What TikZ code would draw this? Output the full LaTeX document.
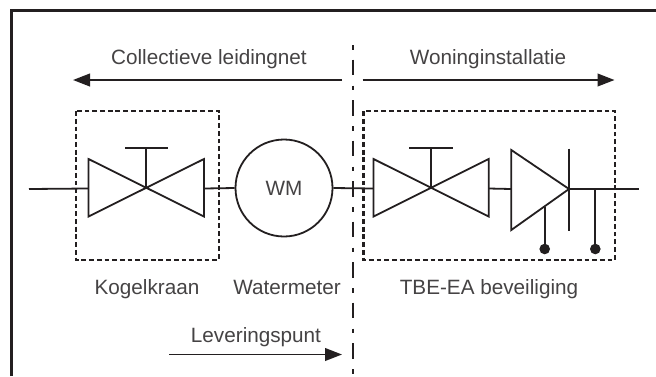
\documentclass[tikz,border=0pt]{standalone}
\usepackage{fontspec}
\setmainfont{Liberation Sans}
\usetikzlibrary{arrows.meta}
\definecolor{ink}{HTML}{231F20}
\definecolor{txt}{HTML}{454344}
\tikzset{
  x=1pt,y=-1pt,
  pipe/.style={draw=ink,line width=1.8pt},
  frameline/.style={draw=ink,line width=2.6pt},
  dashbox/.style={draw=ink,line width=2.1pt,dash pattern=on 4.8pt off 2.9pt},
  centerline/.style={draw=ink,line width=1.8pt,dash pattern=on 4.5pt off 10pt on 15.5pt off 10.5pt},
  flow/.style={draw=ink,line width=1.8pt,-{Triangle[length=17pt,width=12.7pt]}},
  lbl/.style={text=txt,font=\fontsize{20.7}{24}\selectfont,inner sep=0pt,anchor=base},
  dot/.style={circle,fill=ink,minimum size=10.6pt,inner sep=0pt},
  meter/.style={circle,draw=ink,line width=1.8pt,minimum size=97pt,inner sep=0pt,text=txt,font=\fontsize{20.7}{24}\selectfont}
}
\begin{document}
\begin{tikzpicture}
\useasboundingbox (0,0) rectangle (656,376);
\fill[white] (0,0) rectangle (656,376);
% frame
\draw[frameline] (11.7,376) -- (11.7,10.7) -- (656,10.7);
% center line
\coordinate (cltop) at (353,45);
\coordinate (clbot) at (353,376);
\draw[centerline] (cltop) -- (clbot);
% flow arrows
\coordinate (a1s) at (342,80); \coordinate (a1e) at (73,80);
\coordinate (a2s) at (362.7,80); \coordinate (a2e) at (614.5,80);
\coordinate (a3s) at (169,354.5); \coordinate (a3e) at (342,354.5);
\draw[flow] (a1s) -- (a1e);
\draw[flow] (a2s) -- (a2e);
\draw[flow] (a3s) -- (a3e);
% dashed boxes
\draw[dashbox] (76,111.2) rectangle (219,259.8);
\draw[dashbox] (363.5,111.2) rectangle (615,259.8);
% valve 1
\coordinate (v1l) at (88.5,188.5); \coordinate (v1r) at (204,188.5); \coordinate (v1c) at (146,188);
\coordinate (v1t) at (146,148);
\draw[pipe,line join=miter] (88.5,159) -- (204,216.5) -- (204,159) -- (88.5,216.5) -- cycle;
\draw[pipe] (v1c) -- (v1t);
\draw[pipe] (125,148) -- (167.5,148);
% meter
\node[meter] (wm) at (284,188) {WM};
% valve 2
\coordinate (v2l) at (373.5,188.5); \coordinate (v2r) at (488.7,188.5); \coordinate (v2c) at (431,188);
\coordinate (v2t) at (431,148);
\draw[pipe,line join=miter] (373.5,159) -- (488.7,216.5) -- (488.7,159) -- (373.5,216.5) -- cycle;
\draw[pipe] (v2c) -- (v2t);
\draw[pipe] (409.3,148) -- (452.5,148);
% check valve
\coordinate (cl) at (511.3,189); \coordinate (ct) at (569,189);
\draw[pipe] (511.3,150) -- (569,189) -- (511.3,230) -- cycle;
\draw[pipe] (569,148.5) -- (569,231);
% pipes
\coordinate (in) at (29,189); \coordinate (out) at (638.5,189);
\draw[pipe] (in) -- (v1l);
\draw[pipe] (v1r) -- (wm.west);
\draw[pipe] (wm.east) -- (v2l);
\draw[pipe] (v2r) -- (cl);
\draw[pipe] (ct) -- (out);
% sensor stubs
\node[dot] (d1) at (544.7,249) {};
\node[dot] (d2) at (595.3,249) {};
\coordinate (s1) at (544.7,206.5); \coordinate (s2) at (595.3,189);
\draw[pipe] (s1) -- (d1);
\draw[pipe] (s2) -- (d2);
% labels
\node[lbl] (t1) at (209,64) {Collectieve leidingnet};
\node[lbl] (t2) at (488,64) {Woninginstallatie};
\node[lbl] (t3) at (147,294) {Kogelkraan};
\node[lbl] (t4) at (287,294) {Watermeter};
\node[lbl] (t5) at (489,294) {TBE-EA beveiliging};
\node[lbl] (t6) at (256,342) {Leveringspunt};
\end{tikzpicture}
\end{document}
